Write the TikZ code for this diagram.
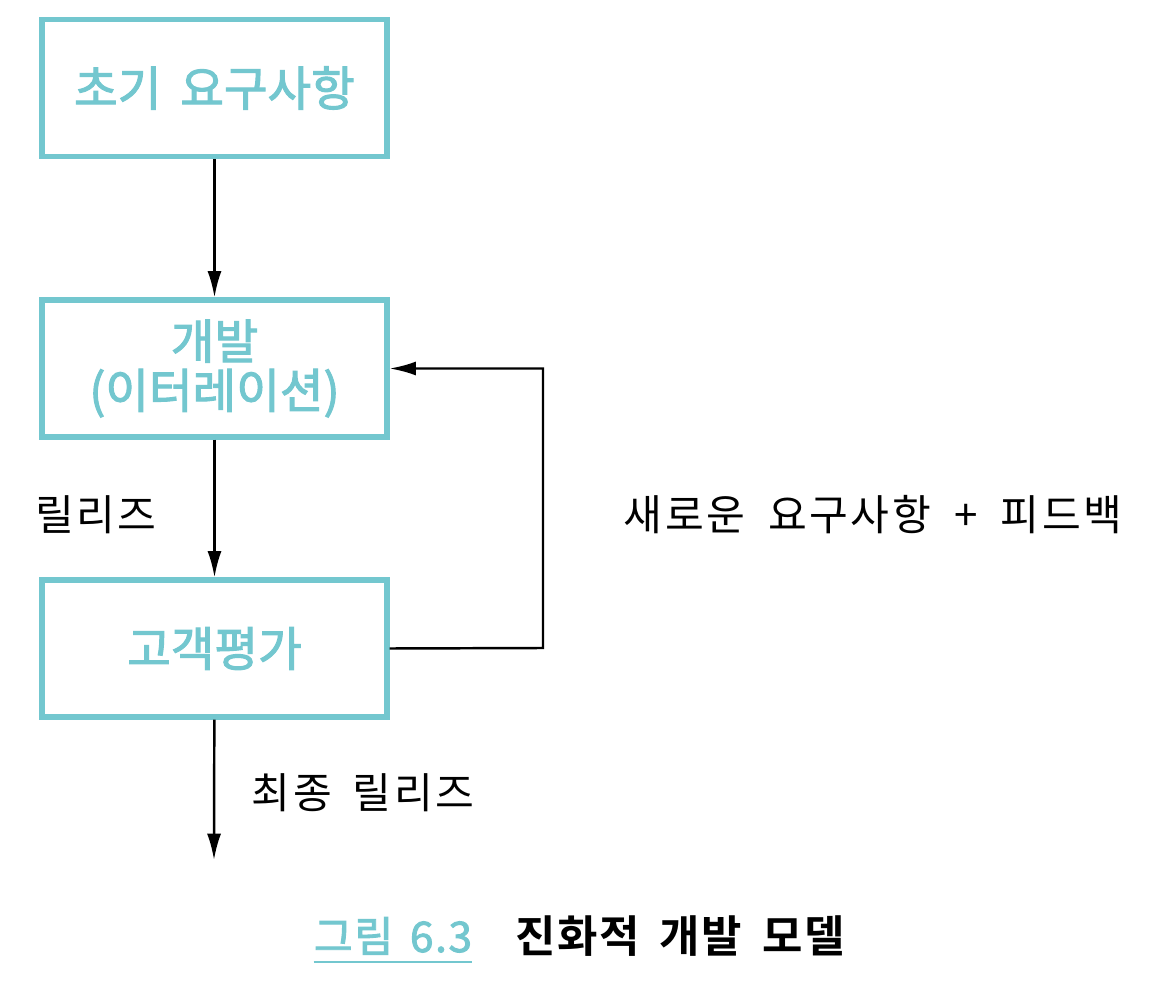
\documentclass[tikz,border=0pt]{standalone}
\usepackage{fontspec}
\usetikzlibrary{arrows.meta}
\newfontfamily\kr[LetterSpace=6]{Noto Sans CJK KR}
\newfontfamily\krm[FakeBold=2.2]{Noto Sans CJK KR}
\newfontfamily\krcap[FakeBold=2.2,LetterSpace=4]{Noto Sans CJK KR}
\newfontfamily\krb[BoldFont={* Bold},LetterSpace=4]{Noto Sans CJK KR}
\definecolor{tealbox}{RGB}{115,199,207}
\tikzset{
  stepbox/.style={draw=tealbox, line width=2.9pt, minimum width=345*0.02cm, minimum height=137*0.02cm, inner sep=0pt,
    text=tealbox, font=\krm\fontsize{27}{31}\selectfont, align=center},
  flow/.style={draw=black, line width=1.4pt, -{Latex[length=15pt,width=8pt]}},
  lbl/.style={font=\kr\fontsize{24}{28}\selectfont, text=black, inner sep=0pt},
}
\begin{document}
\begin{tikzpicture}[x=0.02cm,y=-0.02cm]
\useasboundingbox[fill=white] (0,0) rectangle (1161,1000);
\node[stepbox] (init) at (214.5,88) {초기\hspace{0.4em}요구사항};
\node[stepbox] (dev) at (214.5,368.5) {\raisebox{-3pt}{개발}\\(이터레이션)};
\node[stepbox] (eval) at (214.5,648.5) {고객평가};
\coordinate (end) at (214,860);
\coordinate (fbr) at (543,648);
\coordinate (fbt) at (543,368.5);
\draw[flow] (init) -- (dev);
\draw[flow] (dev) -- (eval);
\draw[flow] (eval) -- (end);
\draw[flow] (eval.east) -- (fbr) -- (fbt) -- (dev.east);
\node[lbl] (rel) at (96,515) {릴리즈};
\node[lbl] (fb) at (873,515) {새로운\hspace{0.55em}요구사항\hspace{0.55em}+\hspace{0.55em}피드백};
\node[lbl] (final) at (363,793) {최종\hspace{0.5em}릴리즈};
\node[inner sep=0pt, text=tealbox, font=\krcap\fontsize{24}{28}\selectfont, anchor=base] (fig) at (393,952) {그림\hspace{0.4em}6.3};
\draw[tealbox, line width=1.5pt] (fig.south west |- 0,962) -- (fig.south east |- 0,962);
\node[inner sep=0pt, text=black, font=\krb\bfseries\fontsize{25}{29}\selectfont, anchor=base] (title) at (680,952) {진화적\hspace{0.45em}개발\hspace{0.45em}모델};
\end{tikzpicture}
\end{document}
